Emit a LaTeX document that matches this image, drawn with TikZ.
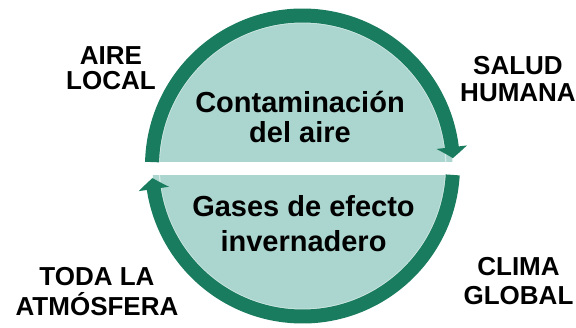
\documentclass[tikz,border=0pt]{standalone}
\usepackage{fontspec}
\setmainfont{Liberation Sans}
\usetikzlibrary{arrows.meta,bending}
\definecolor{ringgreen}{RGB}{26,124,94}
\definecolor{diskteal}{RGB}{170,214,207}
\begin{document}
\begin{tikzpicture}[x=1pt,y=1pt,
  ringarc/.style={draw=ringgreen, line width=14pt, line cap=butt,
    -{Triangle[width=30pt,length=11pt,bend]}},
  outerlab/.style={font=\fontsize{26}{27}\selectfont\bfseries, align=center, anchor=base, inner sep=0pt},
  innerlab/.style={font=\fontsize{29}{30}\selectfont\bfseries, align=center, anchor=base, inner sep=0pt}]
\useasboundingbox (0,0) rectangle (576,327);
\coordinate (c) at (302.5,161);
\fill[diskteal] (c) circle (150);
\draw[white, line width=1.2pt, opacity=0.5] (c) circle (143.3);
\fill[white] (128,152) rectangle (478,165);
\coordinate (ts) at ([shift={(178.5:150.5)}]c);
\coordinate (bs) at ([shift={(-3.4:150.5)}]c);
\draw[ringarc] (ts) arc (178.5:3:150.5);
\draw[ringarc] (bs) arc (-3.4:-175.4:150.5);
\node[innerlab] (contam) at (300,184) {Contaminación\\del aire};
\node[innerlab, font=\fontsize{29}{35}\selectfont\bfseries] (gases) at (303.5,75) {Gases de efecto\\invernadero};
\node[outerlab, font=\fontsize{26}{25}\selectfont\bfseries] (aire) at (111,237) {AIRE\\LOCAL};
\node[outerlab] (salud) at (518,225) {SALUD\\HUMANA};
\node[outerlab, font=\fontsize{26}{30}\selectfont\bfseries] (toda) at (97,12) {TODA LA\\ATMÓSFERA};
\node[outerlab, font=\fontsize{26}{29}\selectfont\bfseries] (clima) at (518.5,23) {CLIMA\\GLOBAL};
\end{tikzpicture}
\end{document}
